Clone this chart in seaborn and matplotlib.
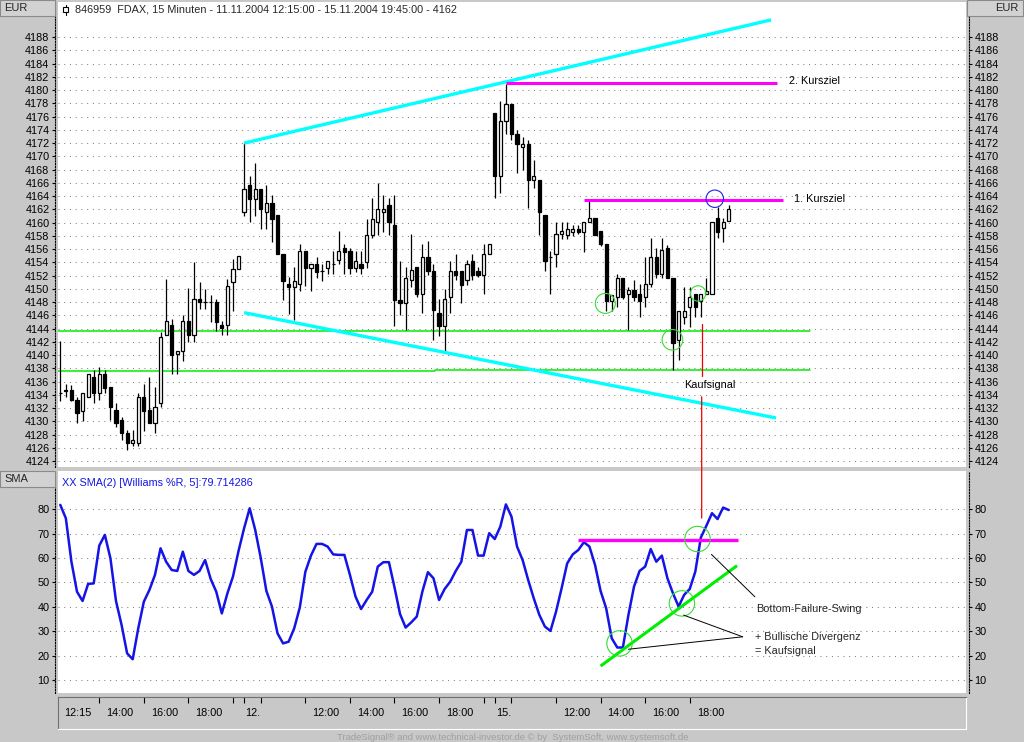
import numpy as np
import pandas as pd
import matplotlib
matplotlib.use("Agg")
import matplotlib.pyplot as plt
import seaborn as sns
from matplotlib.patches import Rectangle, Ellipse, ConnectionPatch

# ---------------- DATA ----------------
opens = [4134.3, 4134.7, 4134.7, 4133.2, 4131.6, 4133.7, 4136.7, 4134.2, 4137.1, 4135.2,
         4131.7, 4130.2, 4128.2, 4126.7, 4126.7, 4133.7, 4131.7, 4129.7, 4132.7, 4143.1,
         4144.6, 4140.1, 4140.6, 4145.1, 4143.1, 4148.5, 4148.0, 4148.0, 4148.0, 4144.6,
         4144.6, 4151.0, 4153.0,
         4161.6, 4165.6, 4163.6, 4165.1, 4161.6, 4163.0, 4161.1, 4155.2, 4150.7, 4150.2,
         4150.7, 4155.7, 4153.2, 4153.7, 4152.7, 4153.2, 4153.7, 4154.3, 4156.1, 4155.7,
         4153.2, 4153.7, 4154.1, 4158.2, 4160.1, 4161.6, 4162.6, 4159.6, 4148.3, 4147.85,
         4151.3, 4153.3, 4149.15, 4154.8, 4152.65, 4146.4, 4144.4, 4148.8, 4152.65, 4152.65,
         4151.3, 4154.15, 4152.65, 4152.15, 4155.3,
         4176.5, 4167.0, 4175.4, 4177.9, 4173.4, 4171.4, 4171.9, 4166.5, 4166.5, 4161.15,
         4154.8, 4155.3, 4158.3, 4158.1, 4158.6, 4159.1, 4158.6, 4160.15, 4160.65, 4158.74,
         4156.7, 4148.2, 4148.7, 4151.7, 4149.2, 4149.8, 4149.2, 4148.7, 4150.7, 4154.8,
         4152.2, 4156.1, 4151.7, 4142.2, 4145.7, 4147.2, 4149.2, 4148.2, 4149.2, 4149.2,
         4160.65, 4159.15, 4160.3]
highs = [4142.1, 4135.6, 4135.5, 4133.7, 4134.25, 4137.1, 4137.7, 4138.2, 4137.7, 4135.2,
         4132.7, 4130.7, 4128.7, 4128.7, 4134.2, 4135.6, 4136.7, 4135.2, 4143.5, 4151.5,
         4145.5, 4140.6, 4146.1, 4150.1, 4154.0, 4151.0, 4150.0, 4149.0, 4148.5, 4145.1,
         4151.5, 4154.5, 4155.0,
         4172.0, 4167.1, 4169.0, 4165.1, 4165.6, 4164.1, 4161.1, 4155.2, 4151.85, 4153.25,
         4156.7, 4155.7, 4153.7, 4154.75, 4153.7, 4154.2, 4155.7, 4158.7, 4156.7, 4156.1,
         4155.7, 4155.7, 4160.6, 4163.7, 4166.0, 4164.1, 4163.7, 4164.1, 4154.2, 4153.25,
         4158.3, 4153.3, 4156.8, 4157.15, 4153.8, 4148.4, 4149.9, 4154.15, 4155.3, 4152.65,
         4154.3, 4155.3, 4153.3, 4156.8, 4156.8,
         4176.6, 4178.4, 4180.9, 4177.9, 4174.0, 4172.9, 4172.5, 4169.5, 4166.5, 4161.15,
         4155.65, 4160.15, 4160.15, 4160.15, 4159.65, 4159.65, 4160.15, 4163.2, 4160.65, 4158.74,
         4156.7, 4149.1, 4152.2, 4151.7, 4150.2, 4151.3, 4150.7, 4154.8, 4157.6, 4156.1,
         4157.6, 4156.6, 4151.7, 4146.7, 4150.2, 4150.2, 4149.2, 4149.2, 4151.7, 4160.15,
         4162.4, 4160.65, 4162.7]
lows = [4133.1, 4133.6, 4133.1, 4129.7, 4130.1, 4133.6, 4132.7, 4133.2, 4134.2, 4130.2,
        4129.2, 4127.2, 4125.7, 4126.2, 4126.2, 4128.6, 4129.7, 4128.2, 4132.1, 4143.1,
        4137.1, 4137.1, 4139.1, 4142.0, 4142.0, 4147.0, 4147.0, 4145.0, 4143.6, 4143.1,
        4143.1, 4146.6, 4153.0,
        4161.0, 4160.1, 4161.0, 4159.1, 4159.1, 4157.1, 4155.2, 4148.3, 4146.25, 4145.35,
        4149.7, 4150.5, 4149.7, 4151.7, 4151.25, 4152.2, 4152.2, 4153.7, 4152.2, 4152.2,
        4152.6, 4152.2, 4153.2, 4157.6, 4158.2, 4158.6, 4158.2, 4144.35, 4146.1, 4143.85,
        4150.3, 4148.8, 4146.3, 4152.15, 4142.3, 4142.9, 4140.65, 4146.4, 4151.3, 4147.9,
        4150.65, 4151.3, 4151.8, 4149.15, 4155.3,
        4163.65, 4164.4, 4173.4, 4172.4, 4167.5, 4167.9, 4162.15, 4165.15, 4158.15, 4152.65,
        4149.15, 4153.3, 4157.5, 4157.5, 4158.0, 4158.3, 4155.6, 4160.1, 4158.1, 4156.4,
        4146.7, 4146.7, 4147.2, 4148.4, 4143.8, 4148.2, 4145.7, 4147.2, 4150.2, 4151.7,
        4151.7, 4151.7, 4137.7, 4139.2, 4144.7, 4144.3, 4145.7, 4145.7, 4149.2, 4149.2,
        4157.6, 4157.1, 4160.3]
closes = [4134.2, 4134.6, 4133.2, 4131.2, 4134.25, 4137.1, 4134.2, 4137.1, 4135.1, 4132.1,
          4129.7, 4128.2, 4126.7, 4127.2, 4133.7, 4131.6, 4129.7, 4132.2, 4142.7, 4145.1,
          4140.0, 4140.6, 4145.1, 4143.1, 4148.5, 4148.0, 4148.0, 4148.0, 4145.0, 4144.1,
          4150.5, 4153.0, 4155.0,
          4165.1, 4163.6, 4165.1, 4162.1, 4163.0, 4160.6, 4155.2, 4151.25, 4150.2, 4151.25,
          4155.7, 4153.2, 4153.7, 4152.6, 4152.7, 4154.2, 4153.7, 4155.7, 4155.6, 4153.2,
          4154.2, 4153.2, 4158.2, 4160.6, 4162.1, 4162.1, 4160.1, 4148.25, 4147.9, 4151.7,
          4152.8, 4149.15, 4154.8, 4152.65, 4146.8, 4144.4, 4148.4, 4152.65, 4152.15, 4150.65,
          4153.8, 4152.15, 4152.15, 4155.3, 4156.8,
          4167.0, 4175.4, 4177.9, 4173.4, 4171.9, 4171.9, 4166.5, 4167.05, 4161.65, 4154.15,
          4154.8, 4158.3, 4158.74, 4159.1, 4159.1, 4158.6, 4160.15, 4160.65, 4158.1, 4156.7,
          4148.2, 4149.1, 4151.7, 4148.7, 4149.8, 4148.7, 4148.2, 4150.7, 4154.8, 4152.2,
          4155.8, 4151.7, 4141.8, 4146.7, 4146.7, 4148.7, 4147.2, 4149.2, 4149.7, 4160.15,
          4158.6, 4160.15, 4162.0]
wr_sma = [81.8, 76.3, 58.5, 46.2, 42.4, 49.4, 49.6, 65.1, 69.5, 59.9,
          42.4, 32.6, 20.9, 18.5, 31.2, 42.1, 46.9, 53.1, 64.0, 58.5,
          55.1, 54.7, 62.6, 54.7, 53.1, 54.7, 59.2, 51.4, 46.2, 37.3,
          45.5, 52.4, 62.9, 72.2, 80.4, 71.5, 59.9, 46.5, 40.1, 29.1,
          25.0, 25.7, 31.2, 39.7, 54.4, 61.0, 65.8, 65.8, 64.7, 61.5,
          61.3, 61.3, 53.1, 44.2, 39.1, 42.8, 46.2, 56.5, 58.3, 58.3,
          48.0, 37.0, 31.5, 33.6, 36.0, 46.2, 54.2, 51.7, 42.8, 47.3,
          50.3, 54.7, 58.5, 71.5, 71.5, 61.0, 61.0, 70.2, 67.8, 72.9,
          82.0, 77.0, 64.7, 59.2, 51.0, 43.5, 36.7, 31.9, 30.1, 38.0,
          47.6, 57.8, 61.5, 63.3, 66.5, 64.7, 57.2, 46.5, 39.4, 27.1,
          23.3, 23.3, 36.7, 48.3, 54.7, 56.5, 63.7, 58.5, 61.0, 51.7,
          45.5, 40.1, 44.9, 47.3, 54.4, 68.4, 73.3, 78.4, 76.0, 80.7,
          79.7]

price_ticks = list(range(4124, 4189, 2))
ind_ticks = [10, 20, 30, 40, 50, 60, 70, 80]
time_tick_bars = [7, 15, 23, 31, 33, 36, 44, 52, 60, 68, 76, 78, 81, 89, 97, 105, 113]
time_label_bars = [0, 7, 15, 23, 33, 44, 52, 60, 68, 78, 89, 97, 105, 113]
time_labels = ["12:15", "14:00", "16:00", "18:00", "12.", "12:00", "14:00", "16:00",
               "18:00", "15.", "12:00", "14:00", "16:00", "18:00"]

# annotation geometry (bar index, price / indicator value)
upper_trend = ([33, 127.6], [4172.0, 4190.6])
lower_trend = ([33, 128.5], [4146.4, 4130.5])
target2 = ([80, 128.7], [4181.1, 4181.1])
target1 = ([94.1, 129.7], [4163.4, 4163.4])
support_hi = ([-0.4, 134.6], [4143.7, 4143.7])
support_lo_a = ([-0.4, 67.3], [4137.55, 4137.55])
support_lo_b = ([67.3, 134.6], [4137.7, 4137.7])
signal_bar = 115.15
price_circles = [(97.85, 4147.8, 10), (109.9, 4142.3, 10.3), (114.5, 4149.3, 7.7)]
target_circle = (117.5, 4163.6, 8.7)
ind_resist = ([93.0, 121.7], [67.3, 67.3])
ind_trend = ([97.0, 121.5], [15.7, 56.9])
ind_circles = [(100.4, 25.0, 12.7), (111.6, 41.4, 12.7), (114.4, 67.8, 12.7)]

# ---------------- STYLE ----------------
sns.set_theme(style="white")
plt.rcParams["font.family"] = ["Liberation Sans", "DejaVu Sans"]
BG = "#c8c8c8"
W, H = 1024, 742
fig = plt.figure(figsize=(W / 100, H / 100), dpi=100, facecolor=BG)


def ax_px(l, t, r, b):
    return fig.add_axes([l / W, 1 - b / H, (r - l) / W, (b - t) / H])


def fx(x):
    return x / W


def fy(y):
    return 1 - y / H


XLIM = (-0.41, 162.6)
PY = (4123.1, 4193.3)
IY = (4.65, 95.7)

ax1 = ax_px(58, 2, 966, 467)
ax2 = ax_px(58, 471, 966, 693)
ax3 = ax_px(58, 697, 966, 729)

grid_kw = dict(color="#808080", lw=0.75, ls=(0, (1, 4.5)), zorder=0)
for ax, ylim, yt in [(ax1, PY, price_ticks), (ax2, IY, ind_ticks)]:
    ax.set_facecolor("white")
    ax.set_xlim(*XLIM)
    ax.set_ylim(*ylim)
    ax.set_xticks([])
    ax.set_yticks(yt)
    ax.set_yticklabels([str(v) for v in yt])
    for v in yt:
        ax.axhline(v, **grid_kw)
    ax.tick_params(axis="y", left=True, right=True, labelleft=True, labelright=True,
                   direction="out", length=2.5, width=0.8, colors="black",
                   labelsize=7.8, pad=1.2)
    for s in ["top", "bottom"]:
        ax.spines[s].set_visible(False)
    for s in ["left", "right"]:
        ax.spines[s].set_visible(True)
        ax.spines[s].set_color("black")
        ax.spines[s].set_linewidth(0.8)
        ax.spines[s].set_linestyle((0, (1, 1.5)))
        ax.spines[s].set_position(("outward", 2.5))
    ax.grid(False)

# ---------------- CANDLES ----------------
o = np.array(opens); h = np.array(highs); l = np.array(lows); c = np.array(closes)
j = np.arange(len(o))
df = pd.DataFrame({"bar": j, "open": o, "high": h, "low": l, "close": c, "wr": wr_sma})
ax1.vlines(df["bar"], df["low"], df["high"], color="black", lw=0.9, zorder=3)
bodies_bottom = np.minimum(o, c)
bodies_h = np.maximum(np.abs(c - o), 0.05)
colors = np.where(c >= o, "white", "black")
ax1.bar(df["bar"], bodies_h, bottom=bodies_bottom, width=0.58, color=colors,
        edgecolor="black", linewidth=0.9, zorder=4)

# annotations on price
ax1.plot(*upper_trend, color="#00ffff", lw=2.4, zorder=5, solid_capstyle="butt")
ax1.plot(*lower_trend, color="#00ffff", lw=2.4, zorder=5, solid_capstyle="butt")
ax1.plot(*target2, color="#ff00ff", lw=2.2, zorder=5, solid_capstyle="butt")
ax1.plot(*target1, color="#ff00ff", lw=2.2, zorder=5, solid_capstyle="butt")
for seg in [support_hi, support_lo_a, support_lo_b]:
    ax1.plot(*seg, color="#00ee00", lw=1.1, zorder=2)

sx = (XLIM[1] - XLIM[0]) / 908.0
sp = (PY[1] - PY[0]) / 465.0
si = (IY[1] - IY[0]) / 222.0
for (cx, cy, r) in price_circles:
    ax1.add_patch(Ellipse((cx, cy), 2 * r * sx, 2 * r * sp, fill=False,
                          edgecolor="#33dd33", lw=0.8, zorder=6))
cx, cy, r = target_circle
ax1.add_patch(Ellipse((cx, cy), 2 * r * sx, 2 * r * sp, fill=False,
                      edgecolor="#2020ee", lw=0.8, zorder=6))

ax1.text(target2[0][1] + 2.1, target2[1][0] + 0.2, "2. Kursziel", fontsize=7.8,
         va="center", ha="left", color="black")
ax1.text(target1[0][1] + 2.0, target1[1][0] + 0.2, "1. Kursziel", fontsize=7.8,
         va="center", ha="left", color="black")
ax1.text(signal_bar + 1.5, 4135.5, "Kaufsignal", fontsize=7.8, va="center",
         ha="center", color="black", zorder=8)
ax1.plot([signal_bar, signal_bar], [4144.7, 4136.8], color="#ee0000", lw=0.9, zorder=7)
con = ConnectionPatch(xyA=(signal_bar, 4133.7), coordsA=ax1.transData,
                      xyB=(signal_bar, 76.4), coordsB=ax2.transData,
                      color="#ee0000", lw=0.9, zorder=10)
fig.add_artist(con)

# ---------------- INDICATOR ----------------
sns.lineplot(data=df, x="bar", y="wr", ax=ax2, color="#1414e6", lw=1.8, zorder=4)
ax2.set_xlabel("")
ax2.set_ylabel("")
ax1.set_xlabel("")
ax1.set_ylabel("")
ax2.plot(*ind_resist, color="#ff00ff", lw=2.4, zorder=5, solid_capstyle="butt")
ax2.plot(*ind_trend, color="#00ee00", lw=2.2, zorder=5, solid_capstyle="butt")
for (cx, cy, r) in ind_circles:
    ax2.add_patch(Ellipse((cx, cy), 2 * r * sx, 2 * r * si, fill=False,
                          edgecolor="#33dd33", lw=0.8, zorder=6))
ax2.plot([116.9, 124.7], [61.5, 44.1], color="black", lw=0.7, zorder=6)
ax2.plot([111.9, 122.5], [36.6, 27.7], color="black", lw=0.7, zorder=6)
ax2.plot([102.0, 122.5], [22.6, 27.7], color="black", lw=0.7, zorder=6)
ax2.text(124.9, 39.1, "Bottom-Failure-Swing", fontsize=7.8, va="center", ha="left")
ax2.text(124.7, 27.6, "+ Bullische Divergenz", fontsize=7.8, va="center", ha="left")
ax2.text(124.7, 21.9, "= Kaufsignal", fontsize=7.8, va="center", ha="left")
ax2.text(0.004, 0.945, "XX SMA(2) [Williams %R, 5]:79.714286", transform=ax2.transAxes,
         fontsize=7.8, color="#1414e6", va="center", ha="left")

# ---------------- TIME AXIS ----------------
ax3.set_facecolor(BG)
ax3.set_xlim(*XLIM)
ax3.set_ylim(0, 1)
ax3.set_yticks([])
ax3.set_xticks(time_tick_bars)
ax3.xaxis.tick_top()
ax3.tick_params(axis="x", top=True, bottom=False, direction="in", length=4,
                width=0.8, colors="black", labeltop=False, labelbottom=False)
for s, col in [("top", "#707070"), ("left", "#707070"), ("bottom", "white"), ("right", "white")]:
    ax3.spines[s].set_visible(True)
    ax3.spines[s].set_color(col)
    ax3.spines[s].set_linewidth(0.8)
ax3.grid(False)
for b, lab in zip(time_label_bars, time_labels):
    off = 0.2 if lab.endswith(".") else (0.7 if b == 0 else 1.25)
    ax3.text(b + off, 0.5, lab, fontsize=7.8, va="center", ha="left", color="black")

# ---------------- FRAME DECOR ----------------
def box(x0, y0, x1, y1, fc="#d2d2d2", ec="#8a8a8a"):
    fig.patches.append(Rectangle((fx(x0), fy(y1)), (x1 - x0) / W, (y1 - y0) / H,
                                 transform=fig.transFigure, facecolor=fc,
                                 edgecolor=ec, lw=0.8, zorder=0))

box(0, 0, 55, 16)
box(967, 0, 1023, 16)
box(0, 471, 55, 487)
fig.text(fx(4), fy(8), "EUR", fontsize=8, va="center", ha="left")
fig.text(fx(1019), fy(8), "EUR", fontsize=8, va="center", ha="right")
fig.text(fx(4), fy(479), "SMA", fontsize=8, va="center", ha="left")

# title with small icon
fig.patches.append(Rectangle((fx(63), fy(12)), 5 / W, 5 / H, transform=fig.transFigure,
                             facecolor="white", edgecolor="black", lw=0.8, zorder=5))
fig.lines.append(plt.Line2D([fx(65.5), fx(65.5)], [fy(5), fy(15)], transform=fig.transFigure,
                            color="black", lw=0.8, zorder=5))
fig.text(fx(75), fy(10), "846959  FDAX, 15 Minuten - 11.11.2004 12:15:00 - 15.11.2004 19:45:00 - 4162",
         fontsize=7.8, va="center", ha="left")
fig.text(fx(513), fy(737), "TradeSignal\u00ae and www.technical-investor.de \u00a9 by  SystemSoft, www.systemsoft.de",
         fontsize=6.8, va="center", ha="center", color="#a0a0a0")

fig.savefig("out.png", dpi=100, facecolor=BG)
